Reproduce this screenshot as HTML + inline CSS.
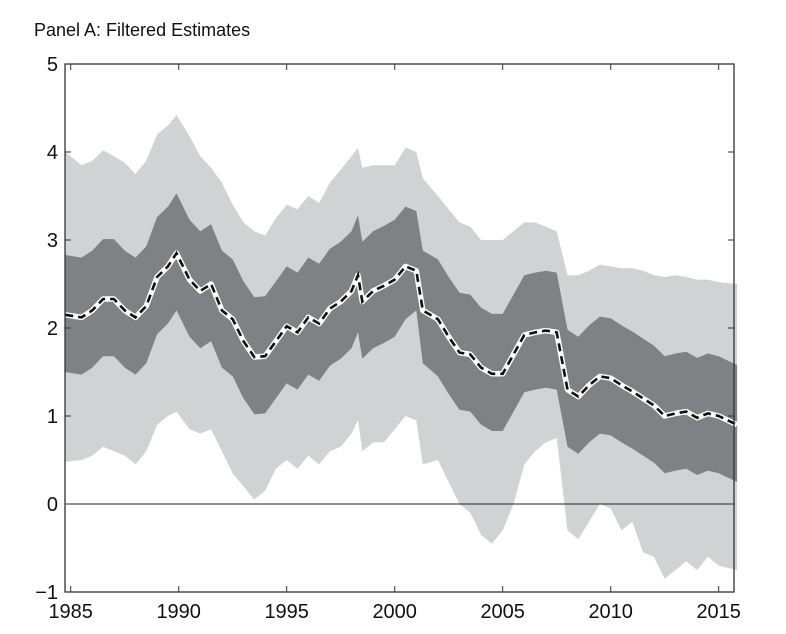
<!DOCTYPE html>
<html><head><meta charset="utf-8"><style>
body{margin:0;background:#fff;}
svg{display:block;font-family:"Liberation Sans",Arial,sans-serif;}
</style></head><body>
<svg id="chart" width="786" height="634" xmlns="http://www.w3.org/2000/svg">
<text x="34" y="36" font-size="18" fill="#111">Panel A: Filtered Estimates</text>
<g id="bands"></g><g id="axes"></g>
</svg>
<script>
const years=[1984.75,1985.5,1986,1986.5,1987,1987.5,1988,1988.5,1989,1989.5,1989.9,1990.5,1991,1991.5,1992,1992.5,1993,1993.5,1994,1994.5,1995,1995.5,1996,1996.5,1997,1997.5,1998,1998.3,1998.5,1999,1999.5,2000,2000.5,2001,2001.3,2002,2002.5,2003,2003.5,2004,2004.5,2005,2005.5,2006,2006.5,2007,2007.5,2008,2008.5,2009,2009.5,2010,2010.5,2011,2011.5,2012,2012.5,2013,2013.5,2014,2014.5,2015,2015.85];
const median=[2.15,2.12,2.2,2.33,2.33,2.2,2.12,2.25,2.58,2.7,2.85,2.55,2.42,2.5,2.2,2.1,1.85,1.67,1.68,1.85,2.02,1.95,2.12,2.05,2.22,2.3,2.42,2.6,2.3,2.42,2.48,2.55,2.7,2.65,2.2,2.1,1.9,1.72,1.7,1.55,1.48,1.48,1.7,1.92,1.95,1.97,1.95,1.3,1.22,1.35,1.45,1.43,1.35,1.28,1.2,1.12,1.0,1.03,1.05,0.98,1.03,1.0,0.9];
const innerHi=[2.83,2.8,2.88,3.01,3.01,2.88,2.8,2.93,3.26,3.38,3.53,3.23,3.1,3.18,2.88,2.78,2.53,2.35,2.36,2.53,2.7,2.63,2.8,2.73,2.9,2.98,3.1,3.28,2.98,3.1,3.16,3.23,3.38,3.33,2.88,2.78,2.58,2.4,2.38,2.23,2.16,2.16,2.38,2.6,2.63,2.65,2.63,1.98,1.9,2.03,2.13,2.11,2.03,1.96,1.88,1.8,1.68,1.71,1.73,1.66,1.71,1.68,1.58];
const innerLo=[1.5,1.47,1.55,1.68,1.68,1.55,1.47,1.6,1.93,2.05,2.2,1.9,1.77,1.85,1.55,1.45,1.2,1.02,1.03,1.2,1.37,1.3,1.47,1.4,1.57,1.65,1.77,1.95,1.65,1.77,1.83,1.9,2.1,2.2,1.6,1.45,1.25,1.07,1.05,0.9,0.83,0.83,1.05,1.27,1.3,1.32,1.3,0.65,0.57,0.7,0.8,0.78,0.7,0.63,0.55,0.47,0.35,0.38,0.4,0.33,0.38,0.35,0.25];
const outerHi=[4.0,3.85,3.9,4.02,3.95,3.88,3.75,3.9,4.2,4.3,4.42,4.18,3.95,3.82,3.65,3.4,3.2,3.1,3.05,3.25,3.4,3.35,3.5,3.42,3.65,3.8,3.95,4.05,3.82,3.85,3.85,3.85,4.05,4.0,3.7,3.5,3.35,3.2,3.15,3.0,3.0,3.0,3.1,3.2,3.2,3.15,3.1,2.6,2.6,2.65,2.72,2.7,2.68,2.68,2.65,2.6,2.58,2.6,2.58,2.55,2.55,2.52,2.5];
const outerLo=[0.48,0.5,0.55,0.65,0.6,0.55,0.45,0.6,0.9,1.0,1.05,0.85,0.8,0.85,0.6,0.35,0.2,0.05,0.15,0.4,0.5,0.4,0.55,0.45,0.6,0.65,0.8,0.95,0.6,0.7,0.7,0.85,1.0,0.95,0.45,0.5,0.25,0.0,-0.1,-0.35,-0.45,-0.3,0.0,0.45,0.6,0.7,0.75,-0.3,-0.4,-0.2,0.0,-0.05,-0.3,-0.2,-0.55,-0.6,-0.85,-0.75,-0.65,-0.75,-0.6,-0.7,-0.75];
const xTicks=[1985,1990,1995,2000,2005,2010,2015];
const yTicks=[-1,0,1,2,3,4,5];
const yTickLabels=["\u22121","0","1","2","3","4","5"];

const L=65,R=734,T=64,B=592;
const x=t=>70.7+(t-1985)*21.6;
const y=v=>504-v*88;
const NS="http://www.w3.org/2000/svg";
const svg=document.getElementById('chart');
const bands=document.getElementById('bands');
const axes=document.getElementById('axes');
function mk(tag,attrs,parent){const e=document.createElementNS(NS,tag);for(const k in attrs)e.setAttribute(k,attrs[k]);parent.appendChild(e);return e;}
function band(hi,lo,fill,name){
  let d='';years.forEach((t,i)=>{d+=(i?'L':'M')+x(t).toFixed(1)+','+y(hi[i]).toFixed(1);});
  for(let i=years.length-1;i>=0;i--)d+='L'+x(years[i]).toFixed(1)+','+y(lo[i]).toFixed(1);
  const p=mk('path',{d:d+'Z',fill:fill},bands);
  
  
}
band(outerHi,outerLo,'#d1d2d4','outer-band');
band(innerHi,innerLo,'#808184','inner-band');
let md='';years.forEach((t,i)=>{md+=(i?'L':'M')+x(t).toFixed(1)+','+y(median[i]).toFixed(1);});
const m1=mk('path',{d:md,fill:'none',stroke:'#fff',"stroke-width":5.5,"stroke-linejoin":"round"},bands);


const m2=mk('path',{d:md,fill:'none',stroke:'#111',"stroke-width":2.6,"stroke-dasharray":"8,5"},bands);


const z=mk('line',{x1:L,x2:R,y1:y(0),y2:y(0),stroke:'#222',"stroke-width":1},axes);


const fr=mk('rect',{x:L,y:T,width:R-L,height:B-T,fill:'none',stroke:'#333',"stroke-width":1.3},axes);


xTicks.forEach(t=>{
  const xx=x(t);
  mk('line',{x1:xx,x2:xx,y1:B,y2:B-6,stroke:'#333'},axes);
  mk('line',{x1:xx,x2:xx,y1:T,y2:T+6,stroke:'#333'},axes);
  const tx=mk('text',{x:xx,y:B+26,"font-size":20,"text-anchor":"middle",fill:'#111'},axes);
  tx.textContent=t;
  
  
});
yTicks.forEach((v,i)=>{
  const yy=y(v);
  mk('line',{x1:L,x2:L+6,y1:yy,y2:yy,stroke:'#333'},axes);
  mk('line',{x1:R,x2:R-6,y1:yy,y2:yy,stroke:'#333'},axes);
  const tx=mk('text',{x:58,y:yy+7,"font-size":20,"text-anchor":"end",fill:'#111'},axes);
  tx.textContent=yTickLabels[i];
  
  
});
</script>
</body></html>
